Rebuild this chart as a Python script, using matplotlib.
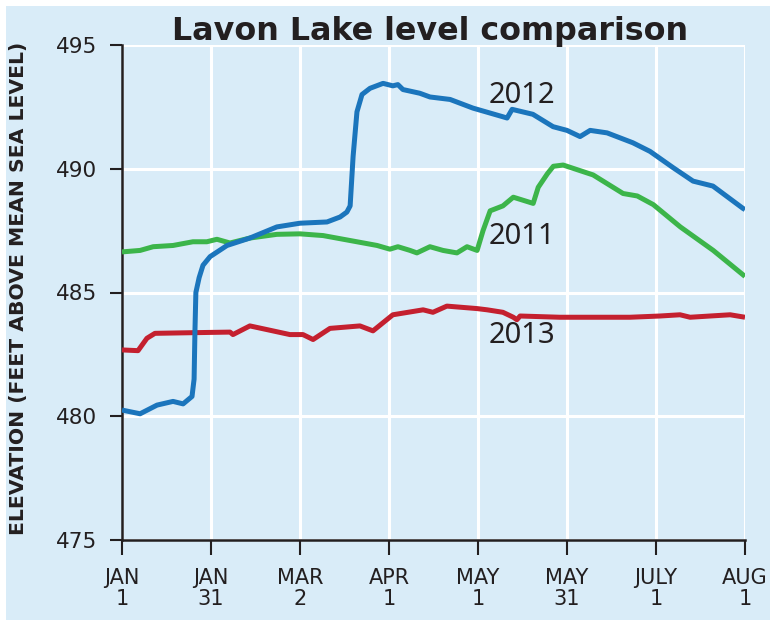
import numpy as np
import matplotlib
matplotlib.use("Agg")
import matplotlib.pyplot as plt
from matplotlib.patches import Rectangle

# Lake level readings (x = days since Jan 1, y = feet above sea level)
days_2012 = [0, 6.1, 11.8, 17.2, 20.6, 23.6, 24.3, 24.6, 24.9, 26.0, 27.3, 29.7,
             35.4, 43.1, 52.2, 60.0, 69.1, 73.5, 75.8, 76.9, 77.9, 79.2, 80.9,
             83.6, 88.0, 91.3, 93.0, 94.7, 100.4, 103.8, 110.6, 118.3, 128.4,
             129.8, 131.5, 138.5, 145.3, 150.0, 154.4, 157.8, 163.5, 172.2,
             178.0, 185.7, 192.5, 199.2, 209.3, 210]
level_2012 = [480.25, 480.1, 480.45, 480.6, 480.5, 480.8, 481.5, 483.5, 485.0,
              485.6, 486.1, 486.45, 486.9, 487.2, 487.65, 487.8, 487.85, 488.05,
              488.25, 488.5, 490.5, 492.3, 493.0, 493.25, 493.45, 493.35, 493.4,
              493.2, 493.05, 492.9, 492.8, 492.45, 492.1, 492.05, 492.4, 492.2,
              491.7, 491.55, 491.3, 491.55, 491.45, 491.05, 490.7, 490.05, 489.5,
              489.3, 488.4, 488.35]

days_2011 = [0, 6.1, 10.5, 17.2, 23.9, 28.6, 32.0, 36.4, 43.1, 52.2, 60.0, 67.8,
             76.9, 86.0, 90.3, 93.0, 97.1, 99.4, 103.8, 108.2, 112.9, 116.3,
             119.7, 121.7, 124.1, 128.4, 131.9, 138.6, 140.3, 143.4, 145.4,
             148.7, 158.8, 168.9, 173.7, 179.1, 188.2, 199.3, 210]
level_2011 = [486.64, 486.7, 486.85, 486.9, 487.05, 487.05, 487.15, 487.0, 487.2,
              487.35, 487.37, 487.3, 487.1, 486.9, 486.75, 486.85, 486.7, 486.6,
              486.85, 486.7, 486.6, 486.85, 486.7, 487.5, 488.3, 488.5, 488.85,
              488.6, 489.25, 489.8, 490.1, 490.15, 489.75, 489.0, 488.9, 488.55,
              487.65, 486.7, 485.65]

days_2013 = [0, 5.4, 8.4, 11.1, 20.6, 36.4, 37.4, 43.1, 48.9, 56.6, 61.0, 64.4,
             70.1, 80.2, 84.6, 91.3, 101.5, 104.8, 109.5, 119.7, 123.1, 128.4,
             131.9, 133.1, 134.2, 147.6, 161.1, 171.2, 181.3, 188.1, 191.5,
             198.2, 205.0, 210]
level_2013 = [482.68, 482.65, 483.15, 483.35, 483.37, 483.4, 483.3, 483.65,
              483.5, 483.3, 483.3, 483.1, 483.55, 483.65, 483.45, 484.1, 484.3,
              484.2, 484.45, 484.35, 484.3, 484.2, 484.0, 483.9, 484.05, 484.0,
              484.0, 484.0, 484.05, 484.1, 484.0, 484.05, 484.1, 484.0]

tick_days = [0, 30, 60, 90, 120, 150, 180, 210]
tick_labels = ["JAN\n1", "JAN\n31", "MAR\n2", "APR\n1", "MAY\n1", "MAY\n31", "JULY\n1", "AUG\n1"]
y_ticks = [475, 480, 485, 490, 495]

bg = "#d9ecf8"
ink = "#231f20"


def fit_width(txt, target_px, horizontal=True):
    # shrink/grow the font until the text spans target_px
    r = fig.canvas.get_renderer()
    for _ in range(3):
        bb = txt.get_window_extent(renderer=r)
        span = bb.width if horizontal else bb.height
        txt.set_fontsize(txt.get_fontsize() * target_px / span)


fig = plt.figure(figsize=(7.7, 6.2), dpi=100, facecolor="white")
fig.patches.append(Rectangle((6 / 770, 0), 1, 1 - 6 / 620, transform=fig.transFigure,
                             facecolor=bg, edgecolor="none", zorder=-10))
ax = fig.add_axes([122 / 770, 80 / 620, 623 / 770, 495 / 620])
ax.set_facecolor(bg)

line_kw = dict(lw=3.6, solid_joinstyle="round", solid_capstyle="butt")
ax.plot(days_2013, level_2013, color="#c4202f", zorder=3, **line_kw)
ax.plot(days_2011, level_2011, color="#3cb54a", zorder=3, **line_kw)
ax.plot(days_2012, level_2012, color="#1b75bc", zorder=4, **line_kw)

for yr, yv in [("2012", 492.94), ("2011", 487.28), ("2013", 483.28)]:
    ax.text(134.7, yv, yr, ha="center", va="center", fontsize=21, color=ink,
            fontweight="medium", family=["Noto Sans", "DejaVu Sans"])

ax.set_xlim(0, 210)
ax.set_ylim(475, 495)
ax.set_xticks(tick_days)
ax.set_xticklabels(tick_labels, fontsize=15, color=ink, linespacing=1.05)
ax.set_yticks(y_ticks)
ax.set_yticklabels([str(v) for v in y_ticks], fontsize=15.5, color=ink)
ax.tick_params(axis="y", length=8.6, width=1.5, pad=9, color=ink)
ax.tick_params(axis="x", length=11, width=1.5, pad=9, color=ink)
ax.grid(True, color="white", lw=2.2, zorder=0)
ax.set_axisbelow(True)
for s in ["top", "right"]:
    ax.spines[s].set_visible(False)
for s in ["left", "bottom"]:
    ax.spines[s].set_linewidth(1.8)
    ax.spines[s].set_color(ink)

title = fig.text(430 / 770, 1 - 40 / 620, "Lavon Lake level comparison", ha="center",
                 va="baseline", fontsize=24, fontweight="bold", color=ink)
ylab = fig.text(19 / 770, 1 - 288 / 620, "ELEVATION (FEET ABOVE MEAN SEA LEVEL)",
                rotation=90, ha="center", va="center", fontsize=14, fontweight="bold",
                color=ink)
fig.canvas.draw()
fit_width(title, 515)
fit_width(ylab, 495, horizontal=False)

fig.savefig("out.png", dpi=100, facecolor=fig.get_facecolor())
